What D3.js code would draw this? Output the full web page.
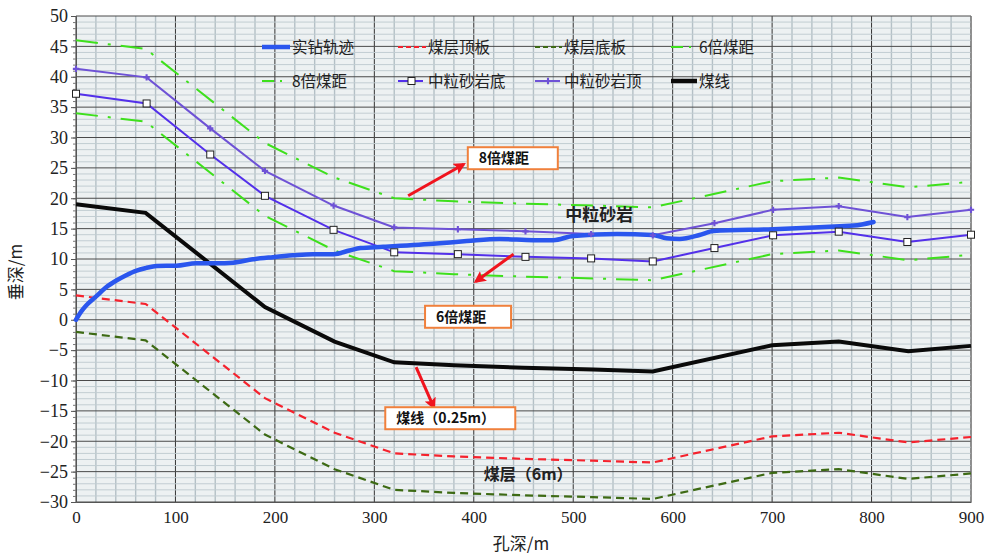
<!DOCTYPE html>
<html>
<head>
<meta charset="utf-8">
<script src="https://cdn.jsdelivr.net/npm/d3@7"></script>
<style>
  body { margin: 0; background: #fff; }
</style>
</head>
<body>
<div id="chart"></div>
<script>
var width = 987;
var height = 555;
var serif = "'Liberation Serif', 'DejaVu Serif', serif";
var cjk = "'Noto Sans CJK SC', sans-serif";

// hole depth / vertical depth
var trackX = [0, 5, 10, 20, 30, 41, 50, 61, 70, 81, 101, 121, 141, 158, 178, 198, 218, 238, 259, 275, 286, 309, 359, 393, 426, 460, 480, 500, 544, 580, 594, 607, 627, 641, 701, 768, 782, 802];
var trackY = [0, 1.3, 2.3, 3.8, 5.3, 6.5, 7.3, 8.1, 8.5, 8.85, 8.9, 9.3, 9.3, 9.4, 9.95, 10.3, 10.6, 10.8, 10.8, 11.4, 11.8, 12.0, 12.5, 12.95, 13.3, 13.1, 13.1, 13.8, 14.1, 13.95, 13.4, 13.3, 13.95, 14.6, 14.9, 15.4, 15.5, 16.1];

var coalX = [0, 70, 190, 260, 320, 380, 450, 520, 580, 700, 767, 837, 900];
var coalLine = [19, 17.6, 2.1, -3.6, -7, -7.5, -7.9, -8.2, -8.5, -4.2, -3.6, -5.2, -4.3];
var seamRoof = [4, 2.6, -12.9, -18.6, -22, -22.5, -22.9, -23.2, -23.5, -19.2, -18.6, -20.2, -19.3];
var seamFloor = [-2, -3.4, -18.9, -24.6, -28, -28.5, -28.9, -29.2, -29.5, -25.2, -24.6, -26.2, -25.3];
var dist6 = [34, 32.6, 17.1, 11.4, 8, 7.5, 7.1, 6.8, 6.5, 10.8, 11.4, 9.8, 10.7];
var dist8 = [46, 44.6, 29.1, 23.4, 20, 19.5, 19.1, 18.8, 18.5, 22.8, 23.4, 21.8, 22.7];

var sandX = [0, 71, 135, 190, 259, 320, 384, 452, 518, 580, 642, 701, 767, 836, 900];
var sandBottom = [37.2, 35.6, 27.2, 20.4, 14.8, 11.1, 10.8, 10.35, 10.1, 9.6, 11.8, 13.9, 14.5, 12.8, 14.0];
var sandTop = [41.3, 39.9, 31.5, 24.5, 18.8, 15.2, 14.9, 14.55, 14.1, 13.9, 15.9, 18.1, 18.7, 16.9, 18.1];

var xTicks = [0, 100, 200, 300, 400, 500, 600, 700, 800, 900];
var yTicks = [-30, -25, -20, -15, -10, -5, 0, 5, 10, 15, 20, 25, 30, 35, 40, 45, 50];

var legendNames = ["实钻轨迹", "煤层顶板", "煤层底板", "6倍煤距", "8倍煤距", "中粒砂岩底", "中粒砂岩顶", "煤线"];

var xScale = d3.scaleLinear().domain([0, 900]).range([76, 971]);
var yScale = d3.scaleLinear().domain([-30, 50]).range([502, 16]);

var svg = d3.select("#chart").append("svg")
    .attr("width", width)
    .attr("height", height);

// plot background
svg.append("rect")
    .attr("x", xScale(0)).attr("y", yScale(50))
    .attr("width", xScale(900) - xScale(0))
    .attr("height", yScale(-30) - yScale(50))
    .attr("fill", "#edf1f2");

// grid
var grid = svg.append("g");
grid.selectAll(".vminor")
    .data(d3.range(0, 901, 20))
    .enter().append("line")
    .attr("x1", d => xScale(d)).attr("x2", d => xScale(d))
    .attr("y1", yScale(50)).attr("y2", yScale(-30))
    .attr("stroke", d => d % 100 == 0 ? "#333" : "#b4c0c6")
    .attr("stroke-width", d => d % 100 == 0 ? 1 : 1.4);
grid.selectAll(".hminor")
    .data(d3.range(-30, 51, 1))
    .enter().append("line")
    .attr("x1", xScale(0)).attr("x2", xScale(900))
    .attr("y1", d => yScale(d)).attr("y2", d => yScale(d))
    .attr("stroke", d => d % 5 == 0 ? "#4a4a4a" : "#c2cdd2")
    .attr("stroke-width", 1);

// axes
var yAxis = d3.axisLeft(yScale).tickValues(yTicks).tickSize(5).tickPadding(3);
var yMinor = d3.axisLeft(yScale).tickValues(d3.range(-30, 51, 1)).tickSize(3).tickFormat("");
var xAxis = d3.axisBottom(xScale).tickValues(xTicks).tickSize(0).tickPadding(9);

svg.append("g").attr("transform", "translate(" + xScale(0) + ",0)").call(yMinor)
    .call(g => g.select(".domain").attr("stroke", "#555"))
    .call(g => g.selectAll(".tick line").attr("stroke", "#777"));
svg.append("g").attr("transform", "translate(" + xScale(0) + ",0)").call(yAxis)
    .call(g => g.select(".domain").remove())
    .call(g => g.selectAll(".tick line").attr("stroke", "#555"))
    .call(g => g.selectAll("text").style("font-family", serif).style("font-size", "18px").attr("fill", "#222")
        .text(d => d < 0 ? "\u2212" + Math.abs(d) : d));
svg.append("g").attr("transform", "translate(0," + yScale(-30) + ")").call(xAxis)
    .call(g => g.select(".domain").attr("stroke", "#555"))
    .call(g => g.selectAll("text").style("font-family", serif).style("font-size", "17px").attr("fill", "#222"));

svg.append("line")
    .attr("x1", xScale(900)).attr("x2", xScale(900))
    .attr("y1", yScale(50)).attr("y2", yScale(-30))
    .attr("stroke", "#888");

// axis titles
svg.append("text")
    .attr("x", 521).attr("y", 550)
    .attr("text-anchor", "middle")
    .style("font-family", cjk).style("font-size", "17px").attr("fill", "#222")
    .text("孔深/m");
svg.append("text")
    .attr("transform", "translate(22,272) rotate(-90)")
    .attr("text-anchor", "middle")
    .style("font-family", cjk).style("font-size", "17px").attr("fill", "#222")
    .text("垂深/m");

function lineOf(xs) {
    return d3.line().x((d, i) => xScale(xs[i])).y(d => yScale(d));
}

var lines = svg.append("g").attr("fill", "none");

lines.append("path").datum(dist8).attr("d", lineOf(coalX))
    .attr("stroke", "#3ee01c").attr("stroke-width", 2).attr("stroke-dasharray", "22,10,3,10");
lines.append("path").datum(dist6).attr("d", lineOf(coalX))
    .attr("stroke", "#3ee01c").attr("stroke-width", 2).attr("stroke-dasharray", "22,10,3,10");
lines.append("path").datum(seamRoof).attr("d", lineOf(coalX))
    .attr("stroke", "#f5222d").attr("stroke-width", 2.2).attr("stroke-dasharray", "8,5");
lines.append("path").datum(seamFloor).attr("d", lineOf(coalX))
    .attr("stroke", "#3d6a14").attr("stroke-width", 2.2).attr("stroke-dasharray", "8,5");
lines.append("path").datum(sandTop).attr("d", lineOf(sandX))
    .attr("stroke", "#6e52d6").attr("stroke-width", 2);
lines.append("path").datum(sandBottom).attr("d", lineOf(sandX))
    .attr("stroke", "#5330ea").attr("stroke-width", 2);
lines.append("path").datum(coalLine).attr("d", lineOf(coalX))
    .attr("stroke", "#0a0a0a").attr("stroke-width", 4);
lines.append("path").datum(trackY).attr("d", lineOf(trackX).curve(d3.curveMonotoneX))
    .attr("stroke", "#2a56ee").attr("stroke-width", 4.5).attr("stroke-linecap", "round");

// markers
svg.selectAll(".topMark")
    .data(sandTop)
    .enter().append("path")
    .attr("d", d3.symbol().type(d3.symbolCross).size(22))
    .attr("transform", (d, i) => "translate(" + xScale(sandX[i]) + "," + yScale(d) + ")")
    .attr("fill", "#6e52d6");
svg.selectAll(".botMark")
    .data(sandBottom)
    .enter().append("rect")
    .attr("x", (d, i) => xScale(sandX[i]) - 3.5)
    .attr("y", d => yScale(d) - 3.5)
    .attr("width", 7).attr("height", 7)
    .attr("fill", "#fff").attr("stroke", "#222").attr("stroke-width", 1);

// legend
var legendX = [262, 398, 535, 671];
var legendTextX = [292, 428, 564, 699];
var legendRows = [47, 81];
var legend = svg.append("g");
legendNames.forEach(function(name, i) {
    var col = i % 4;
    var lx = legendX[col];
    var ly = legendRows[Math.floor(i / 4)];
    var g = legend.append("g");
    var seg = g.append("line")
        .attr("x1", lx).attr("x2", legendTextX[col] - 2)
        .attr("y1", ly).attr("y2", ly);
    if (i == 0) seg.attr("stroke", "#2a56ee").attr("stroke-width", 4.5);
    if (i == 1) seg.attr("stroke", "#f5222d").attr("stroke-width", 2).attr("stroke-dasharray", "5,3");
    if (i == 2) seg.attr("stroke", "#3d6a14").attr("stroke-width", 2).attr("stroke-dasharray", "5,3");
    if (i == 3 || i == 4) seg.attr("stroke", "#3ee01c").attr("stroke-width", 2).attr("stroke-dasharray", "12,6,2,40")
        .attr("x2", lx + 22);
    if (i == 5) {
        seg.attr("stroke", "#5330ea").attr("stroke-width", 2).attr("x2", lx + 25);
        g.append("rect").attr("x", lx + 10).attr("y", ly - 3.5).attr("width", 7).attr("height", 7)
            .attr("fill", "#fff").attr("stroke", "#222");
    }
    if (i == 6) {
        seg.attr("stroke", "#6e52d6").attr("stroke-width", 2).attr("x2", lx + 25);
        g.append("path").attr("d", d3.symbol().type(d3.symbolCross).size(22))
            .attr("transform", "translate(" + (lx + 13) + "," + ly + ")").attr("fill", "#6e52d6");
    }
    if (i == 7) seg.attr("stroke", "#0a0a0a").attr("stroke-width", 4.5).attr("x2", lx + 26);
    g.append("text")
        .attr("x", legendTextX[col]).attr("y", ly + 6)
        .style("font-family", cjk).style("font-size", "15.5px").attr("fill", "#222")
        .text(name);
});

// annotations
var defs = svg.append("defs");
defs.append("marker")
    .attr("id", "arrow")
    .attr("viewBox", "0 0 10 10")
    .attr("refX", 8).attr("refY", 5)
    .attr("markerWidth", 4).attr("markerHeight", 4)
    .attr("orient", "auto")
    .append("path").attr("d", "M0,0 L10,5 L0,10 L2,5 Z").attr("fill", "#f0141e");

var arrows = [
    [[334, 20.4], [390, 25.6]],
    [[440, 10.8], [402, 6.3]],
    [[342, -7.8], [360, -14.5]]
];
svg.selectAll(".arrow")
    .data(arrows)
    .enter().append("line")
    .attr("x1", d => xScale(d[0][0])).attr("y1", d => yScale(d[0][1]))
    .attr("x2", d => xScale(d[1][0])).attr("y2", d => yScale(d[1][1]))
    .attr("stroke", "#f0141e").attr("stroke-width", 3)
    .attr("marker-end", "url(#arrow)");

var boxes = [
    {label: "8倍煤距", x: 394, y: 28.4, w: 90, h: 22},
    {label: "6倍煤距", x: 351, y: 2.3, w: 86, h: 22},
    {label: "煤线（0.25m）", x: 311, y: -14.4, w: 130, h: 22}
];
boxes.forEach(function(b) {
    svg.append("rect")
        .attr("x", xScale(b.x)).attr("y", yScale(b.y))
        .attr("width", b.w).attr("height", b.h)
        .attr("fill", "#fff").attr("stroke", "#f0803c").attr("stroke-width", 2);
    svg.append("text")
        .attr("x", xScale(b.x) + 11).attr("y", yScale(b.y) + 16)
        .style("font-family", cjk).style("font-size", "14px").style("font-weight", "bold").attr("fill", "#111")
        .text(b.label);
});

svg.append("text")
    .attr("x", xScale(492)).attr("y", yScale(16.2))
    .style("font-family", cjk).style("font-size", "17px").style("font-weight", "bold").attr("fill", "#222")
    .text("中粒砂岩");
svg.append("text")
    .attr("x", xScale(410)).attr("y", yScale(-26.4))
    .style("font-family", cjk).style("font-size", "16px").style("font-weight", "bold").attr("fill", "#222")
    .text("煤层（6m）");
</script>
</body>
</html>
